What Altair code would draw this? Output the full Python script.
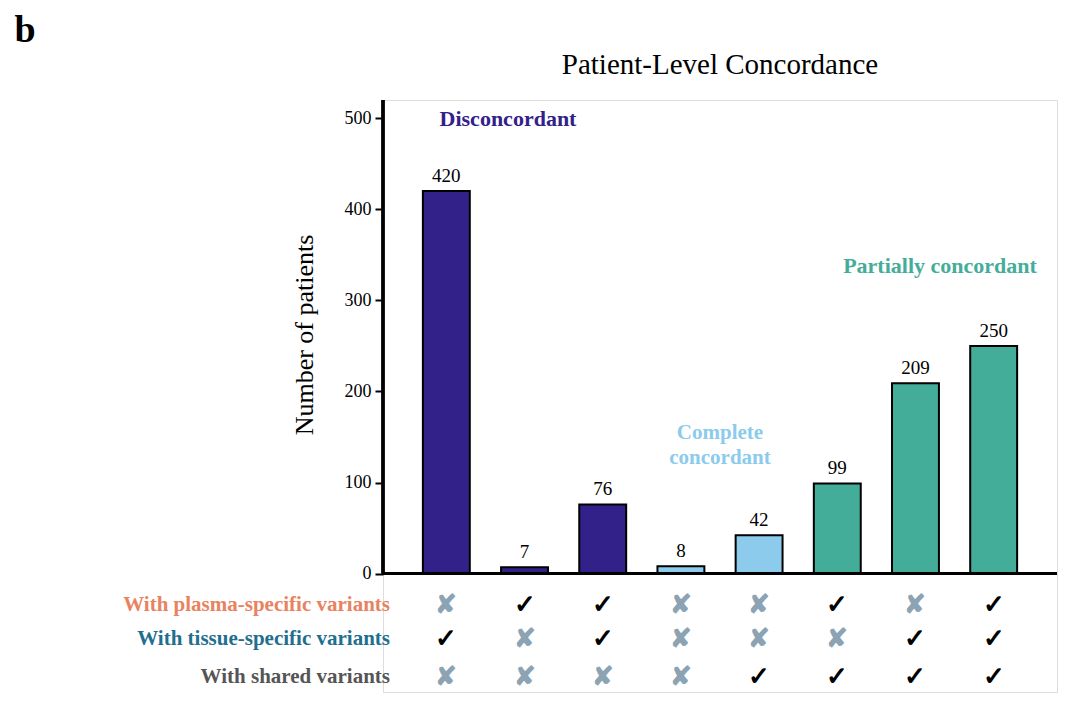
import altair as alt
import pandas as pd

cats = ["c1", "c2", "c3", "c4", "c5", "c6", "c7", "c8"]
values = [420, 7, 76, 8, 42, 99, 209, 250]
groups = ["Disconcordant"] * 3 + ["Complete concordant"] * 2 + ["Partially concordant"] * 3
plasma = ["x", "v", "v", "x", "x", "v", "x", "v"]
tissue = ["v", "x", "v", "x", "x", "x", "v", "v"]
shared = ["x", "x", "x", "x", "v", "v", "v", "v"]
row_names = ["With plasma-specific variants", "With tissue-specific variants", "With shared variants"]
row_colors = ["#e9825f", "#1f6f8f", "#555555"]
row_y = [-35, -72, -113]

group_colors = {"Disconcordant": "#33218a", "Complete concordant": "#8ccbec", "Partially concordant": "#44ad9a"}
FONT = "Liberation Serif"

bars_df = pd.DataFrame({"cat": cats, "value": values, "group": groups,
                        "col": [group_colors[g] for g in groups]})
rows = []
for name, yv, marks in zip(row_names, row_y, [plasma, tissue, shared]):
    for c, m in zip(cats, marks):
        rows.append({"cat": c, "y": yv, "sym": "✓" if m == "v" else "✘",
                     "col": "black" if m == "v" else "#8ba3b3"})
table_df = pd.DataFrame(rows)
rowlab_df = pd.DataFrame({"name": row_names, "y": row_y, "color": row_colors})

xs = alt.Scale(domain=cats, paddingInner=0.4, paddingOuter=0.51)
ys = alt.Scale(domain=[-130, 520], nice=False)
X = alt.X("cat:N", scale=xs, axis=None, sort=cats)

bars = alt.Chart(bars_df).mark_bar(stroke="black", strokeWidth=2).encode(
    x=X,
    y=alt.Y("value:Q", scale=ys, axis=alt.Axis(values=[0, 100, 200, 300, 400, 500], domain=False,
            title=None, labelFont=FONT, labelFontSize=18, labelColor="black", tickColor="black",
            tickWidth=2, tickSize=8, grid=False, labelPadding=4)),
    y2=alt.datum(0),
    fill=alt.Fill("col:N", scale=None),
)
labels = alt.Chart(bars_df).mark_text(font=FONT, fontSize=19, dy=-15, color="black").encode(
    x=X, y=alt.Y("value:Q", scale=ys), text="value:Q")

yaxis_line = alt.Chart(bars_df).mark_rule(color="black", strokeWidth=2.5).encode(
    x=alt.value(0), y=alt.datum(0, scale=ys), y2=alt.datum(520))
xaxis_line = alt.Chart(bars_df).mark_rule(color="black", strokeWidth=2.5).encode(
    x=alt.value(0), x2=alt.value(674), y=alt.datum(0, scale=ys))

syms = alt.Chart(table_df).mark_text(fontSize=26, fontWeight="bold").encode(
    x=X, y=alt.Y("y:Q", scale=ys), text="sym:N",
    fill=alt.Fill("col:N", scale=None))

rowlabs = alt.Chart(rowlab_df).mark_text(font=FONT, fontSize=21, fontWeight="bold", align="right").encode(
    x=alt.value(7), y=alt.Y("y:Q", scale=ys), text="name:N",
    fill=alt.Fill("color:N", scale=None))

def txt(s, x, y, size, color="black", bold=False, angle=0):
    return alt.Chart(pd.DataFrame({"a": [0]})).mark_text(text=s, font=FONT, fontSize=size, color=color,
                                        fontWeight="bold" if bold else "normal", angle=angle).encode(
        x=alt.value(x), y=alt.value(y))

annots = [
    txt("Patient-Level Concordance", 337, -35, 29),
    txt("b", -358, -69, 38, bold=True),
    txt("Number of patients", -78, 235, 26, angle=270),
    txt("Disconcordant", 125, 19, 22, "#33218a", True),
    txt("Partially concordant", 557, 166, 22, "#44ad9a", True),
    txt("Complete", 337, 333, 21, "#8ccbec", True),
    txt("concordant", 337, 358, 21, "#8ccbec", True),
]

chart = alt.layer(bars, labels, yaxis_line, xaxis_line, syms, rowlabs, *annots).properties(
    width=674, height=592, autosize=alt.AutoSizeParams(type="none"),
    padding={"left": 375, "top": 92, "right": 15, "bottom": 5}
).configure_view(strokeWidth=0, stroke="transparent").configure(background="white")

chart.save("out.html", embed_options={"renderer": "svg", "actions": False})
